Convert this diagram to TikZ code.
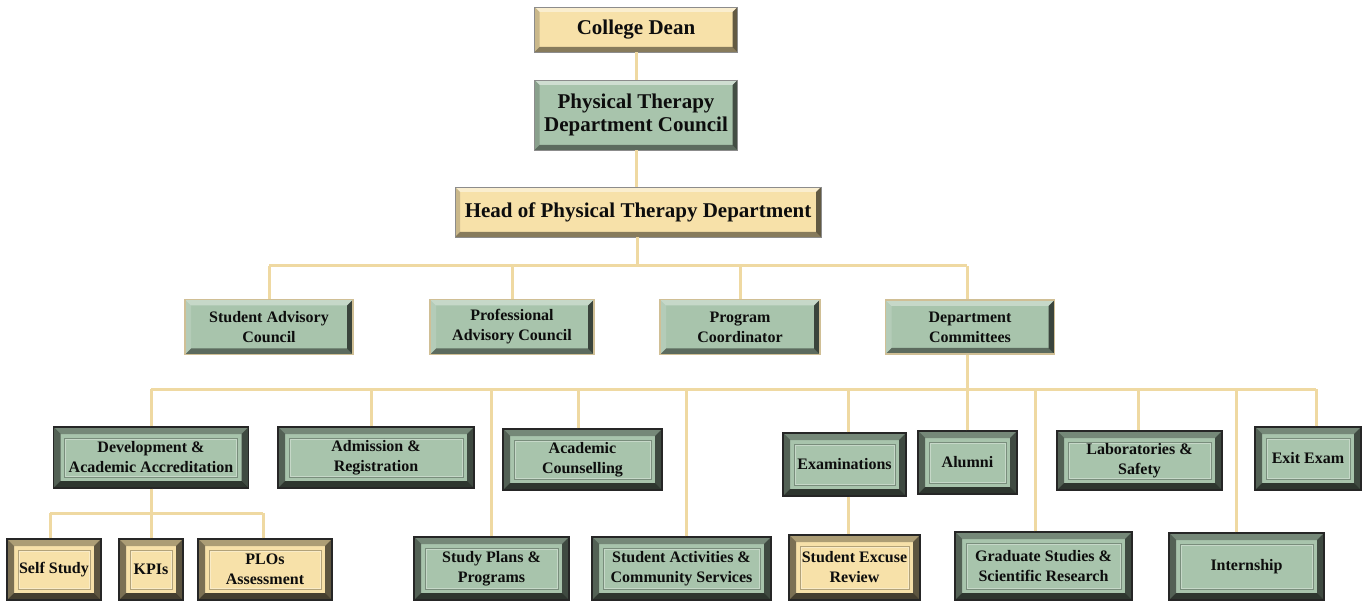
\documentclass[tikz,border=0pt]{standalone}
\usepackage{fontspec}
\setmainfont{Liberation Serif}
\definecolor{grn}{HTML}{A8C4AC}
\definecolor{bge}{HTML}{F7E1A9}
\definecolor{conncol}{HTML}{EFD9A2}
\definecolor{txt}{HTML}{0D0D0D}
\newcommand\bvl[5]{%
  \coordinate (NW) at (path picture bounding box.north west);
  \coordinate (NE) at (path picture bounding box.north east);
  \coordinate (SW) at (path picture bounding box.south west);
  \coordinate (SE) at (path picture bounding box.south east);
  \fill[#2] (NW) -- (NE) -- ([shift={(-#1,-#1)}]NE) -- ([shift={(#1,-#1)}]NW) -- cycle;
  \fill[#3] (NW) -- (SW) -- ([shift={(#1,#1)}]SW) -- ([shift={(#1,-#1)}]NW) -- cycle;
  \fill[#4] (SW) -- (SE) -- ([shift={(-#1,#1)}]SE) -- ([shift={(#1,#1)}]SW) -- cycle;
  \fill[#5] (NE) -- (SE) -- ([shift={(-#1,#1)}]SE) -- ([shift={(-#1,-#1)}]NE) -- cycle;
}
\newcommand\innerframe{%
  \draw[black,opacity=.28,line width=.7pt] ([shift={(11pt,-11pt)}]path picture bounding box.north west) rectangle ([shift={(-11pt,11pt)}]path picture bounding box.south east);
  \draw[white,opacity=.35,line width=.6pt] ([shift={(12pt,-12pt)}]path picture bounding box.north west) rectangle ([shift={(-12pt,12pt)}]path picture bounding box.south east);
}
\tikzset{
  base/.style={inner sep=0pt, align=center, text=txt},
  raised/.style={base, draw=black!45, line width=.7pt,
    path picture={\bvl{5pt}{white,opacity=.45}{black,opacity=.18}{black,opacity=.45}{black,opacity=.6}}},
  lvltwo/.style={base, fill=grn, draw=conncol!85!black!90, line width=1.6pt,
    font=\fontsize{16}{20}\selectfont\bfseries,
    path picture={\bvl{6pt}{white,opacity=.35}{white,opacity=.15}{black,opacity=.45}{black,opacity=.65}}},
  framed/.style={base, draw=black!85, line width=1.2pt,
    font=\fontsize{16}{20}\selectfont\bfseries,
    path picture={\bvl{7pt}{black,opacity=.3}{black,opacity=.5}{black,opacity=.72}{black,opacity=.62}\innerframe}},
  topfont/.style={font=\fontsize{21}{23}\selectfont\bfseries},
  conn/.style={draw=conncol, line width=3pt},
}
\begin{document}
\begin{tikzpicture}[x=1pt,y=-1pt]
\useasboundingbox[fill=white] (0,0) rectangle (1365,601);
% coordinates for buses
\coordinate (bus1) at (637,266);
\coordinate (bus2) at (967,389);
\coordinate (bus3) at (151,513);

% top levels
\node[raised, topfont, fill=bge, minimum width=203pt, minimum height=45pt] (dean) at (636,29.5) {College Dean};
\node[raised, topfont, fill=grn, minimum width=203pt, minimum height=70pt] (council) at (636,115) {Physical Therapy\\Department Council};
\node[raised, topfont, fill=bge, minimum width=366pt, minimum height=50pt] (head) at (638,212) {Head of Physical Therapy Department};

% level 2
\node[lvltwo, minimum width=168pt, minimum height=55pt] (sac) at (269,327) {Student Advisory\\Council};
\node[lvltwo, minimum width=164pt, minimum height=55pt] (pac) at (512,327) {Professional\\Advisory Council};
\node[lvltwo, minimum width=160pt, minimum height=55pt] (pc) at (740,327) {Program\\Coordinator};
\node[lvltwo, minimum width=169pt, minimum height=54pt] (dc) at (970,327) {Department\\Committees};

% level 3
\node[framed, fill=grn, minimum width=195pt, minimum height=61pt] (dev) at (151,457.5) {Development \&\\Academic Accreditation};
\node[framed, fill=grn, minimum width=196pt, minimum height=61pt] (adm) at (376,457.5) {Admission \&\\Registration};
\node[framed, fill=grn, minimum width=159pt, minimum height=61pt] (acc) at (582.5,459.5) {Academic\\Counselling};
\node[framed, fill=grn, minimum width=123pt, minimum height=63pt] (exam) at (844.5,464.5) {Examinations};
\node[framed, fill=grn, minimum width=99pt, minimum height=63pt] (alum) at (967.5,462.5) {Alumni};
\node[framed, fill=grn, minimum width=165pt, minimum height=59pt] (lab) at (1139.5,460.5) {Laboratories \&\\Safety};
\node[framed, fill=grn, minimum width=106pt, minimum height=63pt] (exit) at (1308,458.5) {Exit Exam};

% level 4
\node[framed, fill=bge, minimum width=94pt, minimum height=61pt] (self) at (54,569.5) {Self Study};
\node[framed, fill=bge, minimum width=64pt, minimum height=61pt] (kpi) at (151,569.5) {KPIs};
\node[framed, fill=bge, minimum width=134pt, minimum height=61pt] (plo) at (265,569.5) {PLOs\\Assessment};
\node[framed, fill=grn, minimum width=155pt, minimum height=63pt] (spp) at (491.5,568.5) {Study Plans \&\\Programs};
\node[framed, fill=grn, minimum width=179pt, minimum height=63pt] (act) at (681.5,568.5) {Student Activities \&\\Community Services};
\node[framed, fill=bge, minimum width=131pt, minimum height=65pt] (ser) at (854.5,567.5) {Student Excuse\\Review};
\node[framed, fill=grn, minimum width=177pt, minimum height=68pt] (grad) at (1043.5,566) {Graduate Studies \&\\Scientific Research};
\node[framed, fill=grn, minimum width=155pt, minimum height=67pt] (intern) at (1246.5,566.5) {Internship};

% connectors
\draw[conn] (dean.south) -- (council.north);
\draw[conn] (council.south) -- (council.south |- head.north);
\draw[conn] ([xshift=-1pt]head.south) -- ([xshift=-1pt]head.south |- bus1);
\draw[conn] (sac.north |- bus1) -- ([xshift=-3pt]dc.north |- bus1);
\draw[conn] (sac.north) -- (sac.north |- bus1);
\draw[conn] (pac.north) -- (pac.north |- bus1);
\draw[conn] (pc.north) -- (pc.north |- bus1);
\draw[conn] ([xshift=-3pt]dc.north) -- ([xshift=-3pt]dc.north |- bus1);

\draw[conn] ([xshift=-3pt]dc.south) -- ([xshift=-3pt]dc.south |- bus2);
\draw[conn] (dev.north |- bus2) -- ([xshift=8pt]exit.north |- bus2);
\draw[conn] (dev.north) -- (dev.north |- bus2);
\draw[conn] ([xshift=-5pt]adm.north) -- ([xshift=-5pt]adm.north |- bus2);
\draw[conn] ([xshift=-4.5pt]acc.north) -- ([xshift=-4.5pt]acc.north |- bus2);
\draw[conn] ([xshift=3.5pt]exam.north) -- ([xshift=3.5pt]exam.north |- bus2);
\draw[conn] (alum.north) -- (alum.north |- bus2);
\draw[conn] ([xshift=-1.5pt]lab.north) -- ([xshift=-1.5pt]lab.north |- bus2);
\draw[conn] ([xshift=8pt]exit.north) -- ([xshift=8pt]exit.north |- bus2);
\draw[conn] (spp.north) -- (spp.north |- bus2);
\draw[conn] ([xshift=4.5pt]act.north) -- ([xshift=4.5pt]act.north |- bus2);
\draw[conn] ([xshift=-8.5pt]grad.north) -- ([xshift=-8.5pt]grad.north |- bus2);
\draw[conn] ([xshift=-10.5pt]intern.north) -- ([xshift=-10.5pt]intern.north |- bus2);

\draw[conn] ([xshift=3.5pt]exam.south) -- ([xshift=3.5pt]exam.south |- ser.north);
\draw[conn] (dev.south) -- (dev.south |- bus3);
\draw[conn] ([xshift=-4pt]self.north |- bus3) -- ([xshift=-2pt]plo.north |- bus3);
\draw[conn] ([xshift=-4pt]self.north) -- ([xshift=-4pt]self.north |- bus3);
\draw[conn] (kpi.north) -- (kpi.north |- bus3);
\draw[conn] ([xshift=-2pt]plo.north) -- ([xshift=-2pt]plo.north |- bus3);
\end{tikzpicture}
\end{document}
